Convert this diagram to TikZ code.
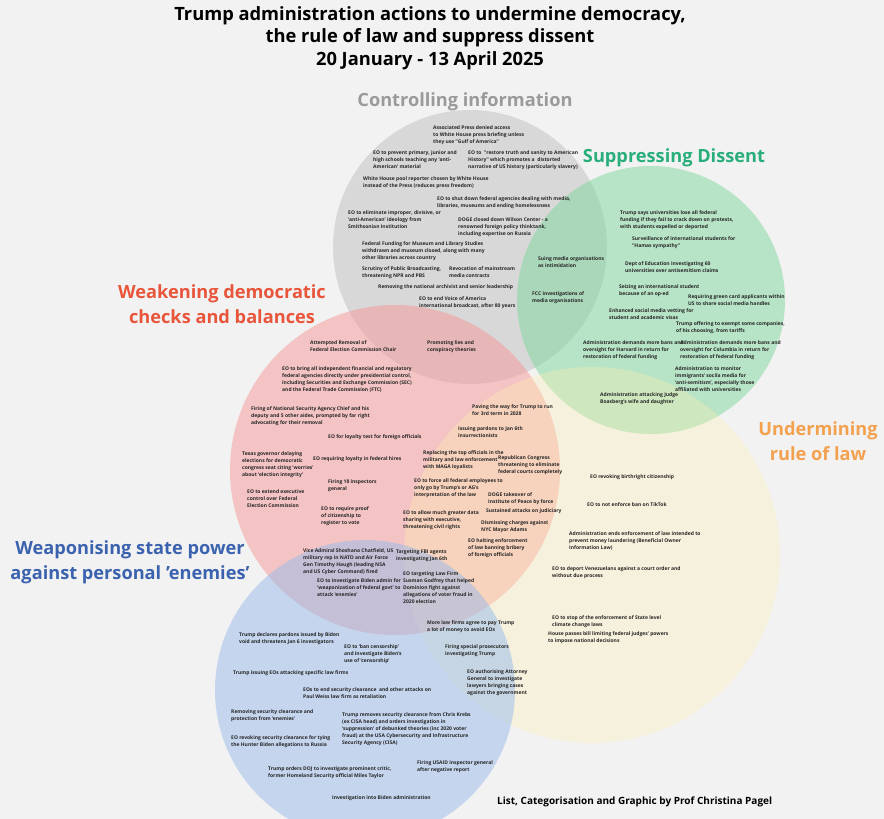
\documentclass[tikz,border=0pt]{standalone}
\usepackage{fontspec}
\setmainfont{Open Sans}
\definecolor{bgc}{HTML}{F2F2F2}
\definecolor{cgray}{HTML}{C0C0C0}
\definecolor{cgreen}{HTML}{7ED69C}
\definecolor{cred}{HTML}{F69898}
\definecolor{cyellow}{HTML}{FFF0B0}
\definecolor{cblue}{HTML}{98BAEA}
\definecolor{lgray}{HTML}{9A9A9A}
\definecolor{lgreen}{HTML}{27AE7A}
\definecolor{lred}{HTML}{E9553A}
\definecolor{lorange}{HTML}{F3A14E}
\definecolor{lblue}{HTML}{3B62AE}
\definecolor{txtc}{HTML}{262626}
\tikzset{
  txt/.style={anchor=north west, align=left, inner sep=0pt, text=txtc,
    font=\fontsize{5}{7.2}\selectfont\bfseries},
  catlabel/.style={align=center, inner sep=0pt,
    font=\fontsize{18.2}{25}\selectfont\bfseries},
  venn/.style={fill opacity=0.5, draw=none}
}
\begin{document}
\begin{tikzpicture}[x=1pt,y=-1pt]
\useasboundingbox (0,0) rectangle (884,819);
\fill[bgc] (0,0) rectangle (884,819);
% circles
\fill[venn, cgray] (470,247) circle[radius=137pt];
\fill[venn, cgreen] (651,300) circle[radius=134pt];
\fill[venn, cred] (395,470) circle[radius=165pt];
\fill[cyellow, fill opacity=0.32] (592,555) circle[radius=188pt];
\fill[venn, cblue] (365,690) circle[radius=150pt];
% title
\node[anchor=north, align=center, inner sep=0pt, font=\fontsize{18.3}{22.7}\selectfont\bfseries] (title) at (430,6)
 {Trump administration actions to undermine democracy,\\the rule of law and suppress dissent\\20 January - 13 April 2025};
% category labels
\node[catlabel, text=lgray] (catA) at (465,102) {Controlling information};
\node[catlabel, text=lgreen] (catB) at (674,158) {Suppressing Dissent};
\node[catlabel, text=lred] (catC) at (222,304) {Weakening democratic\\checks and balances};
\node[catlabel, text=lorange] (catD) at (818,441) {Undermining\\rule of law};
\node[catlabel, text=lblue] (catE) at (130,562) {Weaponising state power\\against personal 'enemies'};
% gray
\node[txt] (n1) at (433,125) {Associated Press denied access\\to White House press briefing unless\\they use "Gulf of America"};
\node[txt] (n2) at (373,150) {EO to prevent primary, junior and\\high schools teaching any `anti-\\American' material};
\node[txt] (n3) at (468,150) {EO to~~"restore truth and sanity to American\\History" which promotes a~~distorted\\narrative of US history (particularly slavery)};
\node[txt] (n4) at (363,176) {White House pool reporter chosen by White House\\instead of the Press (reduces press freedom)};
\node[txt] (n5) at (437,196) {EO to shut down federal agencies dealing with media,\\libraries, museums and ending homelessness};
\node[txt] (n6) at (348,210) {EO to eliminate improper, divisive, or\\`anti-American' ideology from\\Smithsonian Institution};
\node[txt] (n7) at (458,217) {DOGE closed down Wilson Center - a\\renowned foreign policy thinktank,\\including expertise on Russia};
\node[txt] (n8) at (362,241) {Federal Funding for Museum and Library Studies\\withdrawn and museum closed, along with many\\other libraries across country};
\node[txt] (n9) at (362,266) {Scrutiny of Public Broadcasting,\\threatening NPR and PBS};
\node[txt] (n10) at (449,266) {Revocation of mainstream\\media contracts};
\node[txt] (n11) at (378,284) {Removing the national archivist and senior leadership};
\node[txt] (n12) at (419,296) {EO to end Voice of America\\international broadcast, after 80 years};
% gray-green
\node[txt] (n13) at (538,256) {Suing media organisations\\as intimidation};
\node[txt] (n14) at (532,291) {FCC investigations of\\media organisations};
% green
\node[txt] (n15) at (620,210) {Trump says universities lose all federal\\funding if they fail to crack down on protests,\\with students expelled or deported};
\node[txt] (n16) at (632,236) {Surveillance of international students for\\"Hamas sympathy"};
\node[txt] (n17) at (625,261) {Dept of Education investigating 60\\universities over antisemitism claims};
\node[txt] (n18) at (619,284) {Seizing an international student\\because of an op-ed};
\node[txt] (n19) at (688,294) {Requiring green card applicants within\\US to share social media handles};
\node[txt] (n20) at (609,308) {Enhanced social media vetting for\\student and academic visas};
\node[txt] (n21) at (676,321) {Trump offering to exempt some companies,\\of his choosing, from tariffs};
\node[txt] (n22) at (583,340) {Administration demands more bans and\\oversight for Harvard in return for\\restoration of federal funding};
\node[txt] (n23) at (680,340) {Administration demands more bans and\\oversight for Columbia in return for\\restoration of federal funding};
\node[txt] (n24) at (675,366) {Administration to monitor\\immigrants' socila media for\\`anti-semitism', especially those\\affiliated with universities};
\node[txt] (n25) at (600,392) {Administration attacking Judge\\Boasberg's wife and daughter};
% red
\node[txt] (n26) at (310,340) {Attempted Removal of\\Federal Election Commission Chair};
\node[txt] (n27) at (427,340) {Promoting lies and\\conspiracy theories};
\node[txt] (n28) at (282,366) {EO to bring all independent financial and regulatory\\federal agencies directly under presidential control,\\including Securities and Exchange Commission (SEC)\\and the Federal Trade Commission (FTC)};
\node[txt] (n29) at (251,406) {Firing of National Security Agency Chief and his\\deputy and 5 other aides, prompted by far right\\advocating for their removal};
\node[txt] (n30) at (328,434) {EO for loyalty test for foreign officials};
\node[txt] (n31) at (242,451) {Texas governor delaying\\elections for democratic\\congress seat citing `worries'\\about `election integrity'};
\node[txt] (n32) at (313,456) {EO requiring loyalty in federal hires};
\node[txt] (n33) at (328,479) {Firing 18 inspectors\\general};
\node[txt] (n34) at (247,489) {EO to extend executive\\control over Federal\\Election Commission};
\node[txt] (n35) at (321,506) {EO to require proof\\of citizenship to\\register to vote};
% red-yellow
\node[txt] (n36) at (472,404) {Paving the way for Trump to run\\for 3rd term in 2028};
\node[txt] (n37) at (458,426) {Issuing pardons to Jan 6th\\insurrectionists};
\node[txt] (n38) at (423,450) {Replacing the top officials in the\\military and law enforcement\\with MAGA loyalists};
\node[txt] (n39) at (498,455) {Republican Congress\\threatening to eliminate\\federal courts completely};
\node[txt] (n40) at (414,478) {EO to force all federal employees to\\only go by Trump's or AG's\\interpretation of the law};
\node[txt] (n41) at (488,492) {DOGE takeover of\\Institute of Peace by force};
\node[txt] (n42) at (486,508) {Sustained attacks on judiciary};
\node[txt] (n43) at (403,510) {EO to allow much greater data\\sharing with executive,\\threatening civil rights};
\node[txt] (n44) at (481,520) {Dismissing charges against\\NYC Mayor Adams};
\node[txt] (n45) at (468,538) {EO halting enforcement\\of law banning bribery\\of foreign officials};
% red-blue
\node[txt] (n46) at (303,548) {Vice Admiral Shoshana Chatfield, US\\military rep in NATO and Air Force\\Gen Timothy Haugh (leading NSA\\and US Cyber Command) fired};
\node[txt] (n47) at (317,578) {EO to investigate Biden admin for\\`weaponization of federal govt' to\\attack `enemies'};
\node[txt] (n48) at (396,549) {Targeting FBI agents\\investigating Jan 6th};
\node[txt] (n49) at (403,571) {EO targeting Law Firm\\Susman Godfrey that helped\\Dominion fight against\\allegations of voter fraud in\\2020 election};
% yellow
\node[txt] (n50) at (590,474) {EO revoking birthright citizenship};
\node[txt] (n51) at (587,502) {EO to not enforce ban on TikTok};
\node[txt] (n52) at (569,531) {Administration ends enforcement of law intended to\\prevent money laundering (Beneficial Owner\\Information Law)};
\node[txt] (n53) at (552,566) {EO to deport Venezuelans against a court order and\\without due process};
\node[txt] (n54) at (552,615) {EO to stop of the enforcement of State level\\climate change laws};
\node[txt] (n55) at (548,631) {House passes bill limiting federal judges' powers\\to impose national decisions};
% blue-yellow
\node[txt] (n56) at (427,620) {More law firms agree to pay Trump\\a lot of money to avoid EOs};
\node[txt] (n57) at (445,644) {Firing special prosecutors\\investigating Trump};
\node[txt] (n58) at (467,669) {EO authorising Attorney\\General to investigate\\lawyers bringing cases\\against the government};
% blue
\node[txt] (n59) at (239,632) {Trump declares pardons issued by Biden\\void and threatens Jan 6 investigators};
\node[txt] (n60) at (344,644) {EO to `ban censorship'\\and investigate Biden's\\use of `censorship'};
\node[txt] (n61) at (233,670) {Trump issuing EOs attacking specific law firms};
\node[txt] (n62) at (303,687) {EOs to end security clearance~~and other attacks on\\Paul Weiss law firm as retaliation};
\node[txt] (n63) at (231,709) {Removing security clearance and\\protection from `enemies'};
\node[txt] (n64) at (342,712) {Trump removes security clearance from Chris Krebs\\(ex CISA head) and orders investigation in\\`suppression' of debunked theories (inc 2020 voter\\fraud) at the USA Cybersecurity and Infrastructure\\Security Agency (CISA)};
\node[txt] (n65) at (231,735) {EO revoking security clearance for tying\\the Hunter Biden allegations to Russia};
\node[txt] (n66) at (417,760) {Firing USAID inspector general\\after negative report};
\node[txt] (n67) at (268,766) {Trump orders DOJ to investigate prominent critic,\\former Homeland Security official Miles Taylor};
\node[txt] (n68) at (332,795) {Investigation into Biden administration};
% credit
\node[anchor=west, inner sep=0pt, text=black, font=\fontsize{10}{12}\selectfont\bfseries] (credit) at (497,802) {List, Categorisation and Graphic by Prof Christina Pagel};
\end{tikzpicture}
\end{document}
